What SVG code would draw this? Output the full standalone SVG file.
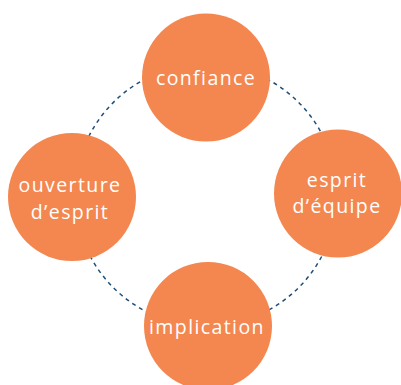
<svg xmlns="http://www.w3.org/2000/svg" width="401" height="385" viewBox="0 0 401 385">
<style>
.node{fill:#F4874F}
.lbl{fill:#ffffff;font-family:"Open Sans","Noto Sans","DejaVu Sans",sans-serif;font-size:19.5px;letter-spacing:1.4px;text-anchor:middle}
.conn{fill:none;stroke:#1F4E79;stroke-width:1.5;stroke-dasharray:4 4}
</style>
<rect width="401" height="385" fill="#ffffff"/>
<g id="connectors">
<circle class="conn" cx="206" cy="195" r="131"/>
</g>
<g id="confiance">
<circle class="node" cx="206" cy="77.5" r="64"/>
<text class="lbl" x="206" y="84.5">confiance</text>
</g>
<g id="ouverture">
<circle class="node" cx="72" cy="197" r="64"/>
<text class="lbl" x="70" y="191.5">ouverture</text>
<text class="lbl" x="70" y="218.5">d’esprit</text>
</g>
<g id="esprit">
<circle class="node" cx="338" cy="193.5" r="64"/>
<text class="lbl" x="337" y="187">esprit</text>
<text class="lbl" x="337" y="213">d’équipe</text>
</g>
<g id="implication">
<circle class="node" cx="208" cy="326" r="64"/>
<text class="lbl" x="207" y="333.5">implication</text>
</g>
</svg>
